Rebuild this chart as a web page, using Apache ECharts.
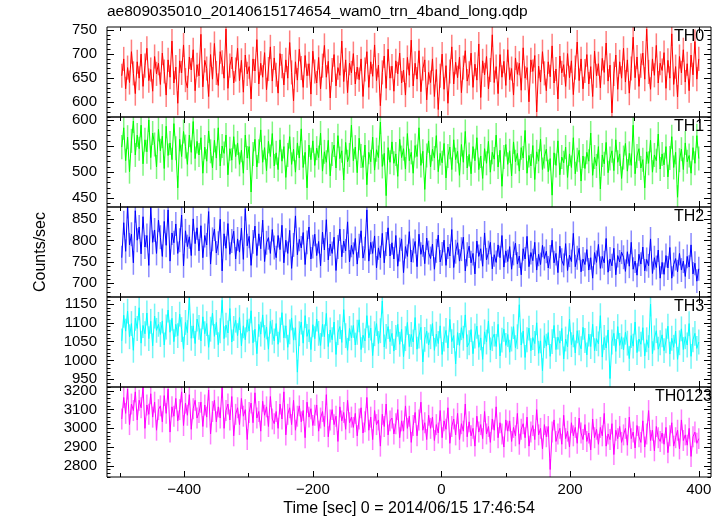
<!DOCTYPE html>
<html><head><meta charset="utf-8">
<script src="https://cdn.jsdelivr.net/npm/echarts@6/dist/echarts.min.js"></script>
<style>html,body{margin:0;padding:0;background:#fff}#c{width:723px;height:516px}</style>
</head><body><div id="c"></div><script>
// time bins (sec)
const tStart = -497, tStep = 3;

const th0 = [
655,690,628,672,641,705,660,618,684,650,700,633,676,712,645,668,623,695,659,681,
637,702,664,615,688,652,727,640,673,598,686,661,719,646,630,694,667,709,624,678,
655,741,632,687,670,612,699,648,722,661,635,705,683,650,752,629,676,694,640,668,
712,645,687,621,698,659,674,607,690,665,730,638,681,652,703,626,669,715,644,692,
657,619,701,675,636,688,650,724,662,603,684,646,710,671,631,697,655,680,617,706,
664,640,693,628,676,718,652,685,609,667,699,634,672,656,727,643,688,620,681,661,
701,638,673,647,690,612,668,705,631,684,654,719,645,677,593,662,696,629,710,650,
675,623,686,659,702,640,667,615,693,656,729,634,681,648,707,622,670,688,605,662,
641,690,612,668,585,655,700,627,676,598,664,715,638,683,651,694,620,672,707,644,
660,702,631,679,646,721,610,686,657,695,628,667,740,641,674,618,699,652,685,635,
709,647,670,615,692,658,681,625,713,650,672,601,688,664,697,580,675,642,705,660,
624,684,653,717,640,669,607,696,661,678,633,701,651,686,616,672,725,645,690,628,
665,699,638,674,612,706,655,680,630,691,662,723,644,677,578,659,698,627,684,650,
712,642,688,619,670,735,651,694,633,676,702,648,752,663,627,690,656,718,640,681,
666,703,629,687,650,742,637,674,611,695,661,709,642,680,624,698,657,726,648,690];

const th1 = [
548,585,522,567,501,560,598,533,571,545,590,516,562,539,600,528,575,553,510,582,
541,569,507,588,532,556,524,593,546,470,563,530,578,549,515,571,538,597,526,559,
533,566,498,548,521,579,540,508,561,527,585,512,550,536,571,495,545,523,568,530,
556,515,542,498,571,527,549,462,535,563,510,540,581,519,547,503,559,530,574,512,
537,505,562,521,549,490,533,568,515,544,500,556,527,583,509,538,470,552,524,560,
513,546,528,575,502,539,519,561,493,535,552,508,570,526,541,485,557,520,533,590,
522,548,499,565,531,509,552,476,538,520,567,504,543,528,596,511,536,455,547,519,
558,517,535,492,563,528,545,506,574,522,538,498,551,530,585,513,540,467,532,560,
510,544,527,570,501,536,518,555,489,531,548,505,562,524,540,494,553,519,578,508,
534,497,549,522,566,505,531,488,545,517,559,500,538,525,571,510,542,473,529,553,
515,541,493,558,520,536,502,547,527,580,498,532,512,551,486,539,521,563,505,530,
544,501,526,456,537,513,560,495,529,518,548,490,535,509,566,497,524,542,483,531,
507,538,521,575,494,529,512,549,468,533,516,557,499,526,541,503,562,519,535,488,
528,555,502,536,513,590,497,531,545,508,524,470,539,517,561,500,533,522,573,506,
535,514,549,491,527,568,509,538,452,523,544,505,556,520,532,498,547,517,570,526];

const th2 = [
760,842,775,880,790,815,748,870,801,832,769,856,785,812,742,878,796,825,770,848,
808,763,845,789,872,752,818,795,839,770,801,860,741,823,786,809,765,851,793,830,
776,835,760,812,790,868,745,803,827,771,794,850,729,816,782,840,768,799,822,757,
804,773,829,756,875,788,810,742,797,834,765,816,781,848,751,795,807,770,826,784,
760,812,779,836,748,801,770,824,735,790,858,767,803,783,819,744,796,832,757,786,
815,765,798,741,820,778,849,755,792,770,808,730,785,827,762,799,776,844,750,789,
768,805,745,788,823,759,781,872,752,796,770,811,736,783,760,817,748,792,830,764,
795,757,812,740,779,804,725,786,763,821,750,777,798,739,815,768,790,746,806,772,
758,792,733,776,813,750,769,801,742,785,764,826,737,774,795,752,780,808,729,768,
787,748,770,722,799,763,781,740,818,755,772,796,734,767,749,790,760,812,738,776,
751,786,733,770,794,745,764,720,781,757,810,739,772,753,796,731,768,744,789,758,
775,736,762,801,748,770,725,787,754,742,793,730,766,751,817,739,760,782,727,757,
744,779,731,760,712,772,749,791,735,763,748,805,726,757,741,782,720,765,750,773,
761,728,774,740,796,733,752,719,768,745,785,729,756,741,804,723,760,737,778,712,
749,721,765,736,784,712,744,758,727,770,731,752,716,763,738,790,722,747,705,734];

const th3 = [
1052,1120,1078,1131,1063,1098,1027,1112,1085,1140,1046,1093,1071,1126,1058,1104,1039,1118,1080,1096,
1069,1105,1041,1089,1134,1075,1112,1050,1096,1066,1123,1082,1030,1101,1074,1167,1059,1092,1045,1110,
1088,1052,1116,1071,1098,1035,1083,1126,1064,1101,1042,1079,1160,1058,1094,1073,1138,1049,1085,1107,
1066,1114,1039,1092,1055,1108,1078,1132,1047,1083,1018,1096,1070,1121,1061,1089,1030,1104,1075,1052,
1098,1043,1081,1127,1060,1092,1035,1076,1113,1054,1087,969,1071,1102,1046,1119,1064,1082,1029,1095,
1058,1110,1072,1040,1096,1063,1125,1037,1081,1055,1102,1016,1074,1090,1048,1135,1066,1027,1085,1060,
1093,1041,1075,1108,1029,1067,1052,1119,1060,1086,1013,1071,1098,1045,1079,1158,1036,1064,1090,1050,
1072,1025,1061,1096,1043,1083,1010,1058,1101,1037,1069,1049,1114,1030,1065,1088,996,1056,1078,1041,
1063,1098,1027,1070,1045,1092,1016,1057,1080,1033,1109,1050,1066,991,1074,1040,1087,1059,1121,1036,
1047,1082,1018,1065,1091,1035,1060,1003,1076,1049,1105,1028,1058,1070,1037,1096,1012,1054,1083,1040,
1069,1022,1057,1090,1034,1063,1148,1041,1078,1008,1055,1086,1026,1061,1045,1100,1019,1052,973,1066,
1038,1074,1011,1050,1093,1029,1062,1046,1085,1004,1057,1036,1110,1042,1068,1020,1079,1047,1031,1088,
1053,1015,1070,1037,1096,1026,1058,1044,1119,1009,1061,1033,1081,952,1049,1072,1024,1090,1040,1063,
1028,1075,1046,1005,1066,1038,1102,1021,1057,1043,1087,1012,1055,1034,1150,1018,1060,1079,1030,1047,
1068,1026,1052,1091,1017,1059,1035,1078,1003,1047,1084,1029,1063,1041,1098,1011,1055,1072,1032,1049];

const th0123 = [
3050,3165,3080,3210,3020,3130,3095,3195,3045,3150,3110,3220,3000,3125,3075,3185,3060,3140,2990,3100,
3120,3035,3175,3080,3210,2980,3115,3065,3160,3040,3100,3195,3015,3135,3070,3180,2995,3105,3150,3055,
3085,3140,3010,3125,3060,3205,2970,3090,3150,3035,3115,3055,3220,3000,3095,3130,3045,3170,2960,3075,
3110,3020,3160,3065,3100,2940,3085,3135,3030,3190,3055,3090,2985,3145,3070,3115,3010,3170,3050,3025,
3090,3000,3130,3050,3195,2965,3075,3110,3020,3150,2990,3065,3120,3035,3095,2950,3140,3060,3105,3015,
3070,3125,2985,3055,3090,3010,3180,2955,3045,3100,3020,3065,2930,3115,3040,3085,2995,3150,3030,3060,
3005,3080,2960,3050,3110,2975,3035,3165,2990,3060,2940,3095,3020,3045,2905,3075,3010,3130,2965,3040,
3055,2970,3025,3100,2950,3040,2985,3120,3000,3065,2925,3015,3085,2960,3045,3140,2990,3030,2940,3070,
3000,3060,2935,3020,2975,3095,2950,3040,2995,3110,2920,3010,3050,2965,3080,2940,3025,2985,3130,2955,
3035,2960,3000,2905,3065,2980,3020,2945,3090,2970,3010,2925,3050,2990,3115,2950,3030,2970,2900,3045,
2985,3040,2930,3005,2960,3080,2915,2995,3025,2950,3060,2905,2980,3015,2940,3100,2965,3000,2890,3020,
2955,3010,2780,2980,3045,2930,2970,3000,2915,3070,2945,2985,2900,3030,2960,3005,2920,3055,2975,2940,
3020,2930,2975,2885,3050,2950,2995,2915,3005,2960,3080,2905,2970,2940,3025,2860,2990,2945,3010,2925,
2965,3000,2910,3060,2945,2980,2895,3015,2955,2925,3040,2900,2970,3095,2935,2990,2880,3010,2950,2930,
2975,2915,3005,2870,2960,3030,2905,2950,2990,2890,3045,2935,2965,2910,3000,2850,2955,2980,2920,2945];

// typical error-bar half-length per panel
const errHalf = [25, 23, 28, 33, 56];

const panelNames = ['TH0','TH1','TH2','TH3','TH0123'];
const panelColors = ['#ff0000','#00ff00','#0000ff','#00ffff','#ff00ff'];
const panelFaint = ['rgba(255,40,40,0.6)','rgba(40,240,40,0.6)','rgba(40,40,255,0.55)','rgba(20,240,240,0.6)','rgba(255,40,255,0.6)'];
const yMins = [569.5, 433.3, 667.9, 929.5, 2740];
const yMaxs = [756.2, 605.7, 878.8, 1168.6, 3221];
const yMajor = [[600,650,700,750],[450,500,550,600],[700,750,800,850],[950,1000,1050,1100,1150],[2800,2900,3000,3100,3200]];
const yMinorStep = [10,10,10,10,20];
const xMajor = [-400,-200,0,200,400];
const xMinor = [-500,-300,-100,100,300];
const xMin = -520, xMax = 419;
const titleText = 'ae809035010_20140615174654_wam0_trn_4band_long.qdp';
const xName = 'Time [sec] 0 = 2014/06/15 17:46:54';
const yName = 'Counts/sec';
const seriesData = [th0, th1, th2, th3, th0123];

const FONT = 'Liberation Sans, Arial, sans-serif';
const gTop = 27, gH = 90, gLeft = 107, gW = 604;

function minorTicks(i){
  const out=[]; const s=yMinorStep[i];
  for(let v=Math.ceil(yMins[i]/s)*s; v<=yMaxs[i]; v+=s) out.push(v);
  return out;
}
const fmtX = v => v < 0 ? '\u2212' + (-v) : String(v);
const fmtY = v => String(v);

const grids=[], xAxes=[], yAxes=[], series=[], graphics=[];
for (let i=0;i<5;i++){
  grids.push({left:gLeft, top:gTop+gH*i, width:gW, height:gH, show:true, borderColor:'#000', borderWidth:1, backgroundColor:'transparent', z:5});
  const mkX = (pos, vals, len, lab) => ({type:'value', gridIndex:i, position:pos, min:xMin, max:xMax,
    axisLine:{show:false, onZero:false}, splitLine:{show:false},
    axisTick:{show:true, inside:true, length:len, customValues:vals, lineStyle:{color:'#000', width:1}},
    axisLabel:{show:lab, customValues:vals, formatter:fmtX, fontSize:15, fontFamily:FONT, color:'#000', margin:5}});
  xAxes.push(mkX('bottom', xMajor, 6, i===4));
  xAxes.push(mkX('bottom', xMinor, 4, false));
  xAxes.push(mkX('top', xMajor, 6, false));
  xAxes.push(mkX('top', xMinor, 4, false));
  const mkY = (pos, vals, len, lab) => ({type:'value', gridIndex:i, position:pos, min:yMins[i], max:yMaxs[i],
    axisLine:{show:false, onZero:false}, splitLine:{show:false},
    axisTick:{show:true, inside:true, length:len, customValues:vals, lineStyle:{color:'#000', width:1}},
    axisLabel:{show:lab, customValues:vals, formatter:fmtY, fontSize:15, fontFamily:FONT, color:'#000', margin:10}});
  const mn = minorTicks(i);
  yAxes.push(mkY('left', yMajor[i], 7, true));
  yAxes.push(mkY('left', mn, 3.5, false));
  yAxes.push(mkY('right', yMajor[i], 7, false));
  yAxes.push(mkY('right', mn, 3.5, false));
  const pts = seriesData[i].map((v,k)=>[tStart + tStep*k, v]);
  const eh = errHalf[i], faint = panelFaint[i];
  series.push({type:'custom', xAxisIndex:4*i, yAxisIndex:4*i, data:pts, z:2, silent:true, animation:false, clip:true,
    renderItem:(params, api)=>{
      const x = api.value(0), y = api.value(1);
      const p1 = api.coord([x, y-eh]), p2 = api.coord([x, y+eh]);
      return {type:'line', shape:{x1:p1[0], y1:p1[1], x2:p2[0], y2:p2[1]}, style:{stroke:faint, lineWidth:1.5}};
    }});
  series.push({type:'line', xAxisIndex:4*i, yAxisIndex:4*i, data:pts, symbol:'none', z:3,
    lineStyle:{color:panelColors[i], width:1}, animation:false, silent:true});
  graphics.push({type:'text', left: i===4 ? 655 : 674, top: gTop+gH*i+2, z:10,
    style:{text:panelNames[i], font:'16px '+FONT, fill:'#000'}});
}
graphics.push({type:'text', left:107, top:4, style:{text:titleText, font:'15.5px '+FONT, fill:'#000'}});
graphics.push({type:'text', x:gLeft+gW/2, y:509, style:{text:xName, font:'16px '+FONT, fill:'#000', textAlign:'center', textVerticalAlign:'middle'}});
graphics.push({type:'text', x:41, y:gTop+gH*2.5, rotation:Math.PI/2, style:{text:yName, font:'16px '+FONT, fill:'#000', textAlign:'center', textVerticalAlign:'middle'}});

const chart = echarts.init(document.getElementById('c'), null, {renderer:'canvas'});
chart.setOption({animation:false, backgroundColor:'#fff', grid:grids, xAxis:xAxes, yAxis:yAxes, series:series, graphic:graphics});
</script></body></html>
